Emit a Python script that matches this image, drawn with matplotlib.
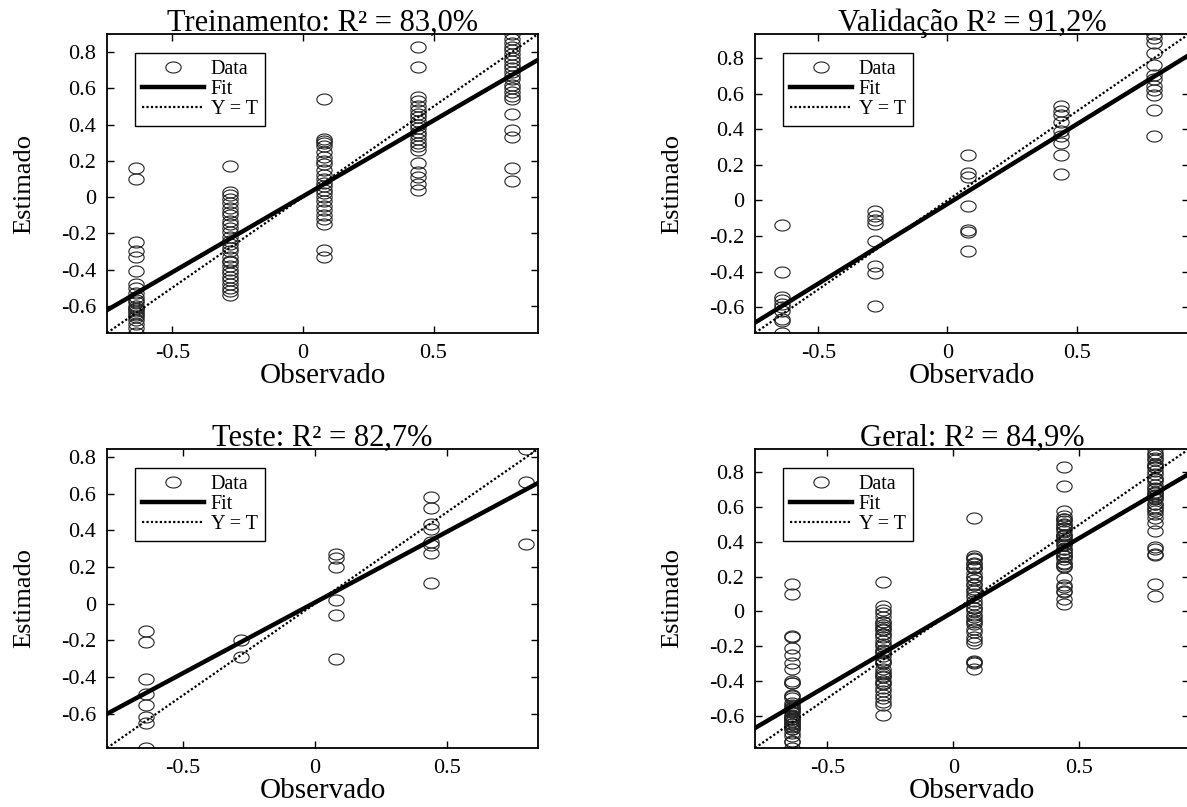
import numpy as np
import matplotlib
matplotlib.use('Agg')
import matplotlib.pyplot as plt
from matplotlib.path import Path

plt.rcParams['font.family'] = ['Liberation Serif', 'DejaVu Serif']

# target levels (observed)
levels = [-0.64, -0.28, 0.08, 0.44, 0.80]

# estimated values per target level
train_est = [
    [0.16, 0.10, -0.25, -0.30, -0.33, -0.41, -0.48, -0.50, -0.53, -0.55, -0.57, -0.58,
     -0.60, -0.61, -0.62, -0.63, -0.64, -0.65, -0.66, -0.68, -0.70, -0.72, -0.75],
    [0.17, 0.03, 0.01, -0.01, -0.03, -0.06, -0.08, -0.10, -0.13, -0.15, -0.17, -0.19,
     -0.22, -0.24, -0.26, -0.28, -0.30, -0.33, -0.35, -0.36, -0.38, -0.40, -0.42,
     -0.44, -0.46, -0.48, -0.50, -0.52, -0.54],
    [0.54, 0.32, 0.31, 0.30, 0.28, 0.25, 0.22, 0.20, 0.18, 0.15, 0.12, 0.10, 0.08,
     0.06, 0.04, 0.02, 0.0, -0.02, -0.05, -0.07, -0.10, -0.12, -0.15, -0.29, -0.33],
    [0.83, 0.72, 0.55, 0.53, 0.50, 0.48, 0.46, 0.44, 0.42, 0.40, 0.38, 0.36, 0.34,
     0.32, 0.30, 0.28, 0.26, 0.19, 0.14, 0.11, 0.07, 0.04],
    [0.90, 0.87, 0.85, 0.83, 0.81, 0.79, 0.77, 0.75, 0.73, 0.71, 0.69, 0.67, 0.65,
     0.62, 0.60, 0.58, 0.56, 0.54, 0.46, 0.37, 0.33, 0.16, 0.09],
]
val_est = [
    [-0.14, -0.40, -0.54, -0.56, -0.58, -0.60, -0.62, -0.665, -0.68, -0.745],
    [-0.06, -0.09, -0.11, -0.13, -0.23, -0.37, -0.41, -0.595],
    [0.255, 0.155, 0.13, -0.03, -0.165, -0.18, -0.285],
    [0.53, 0.505, 0.48, 0.44, 0.39, 0.36, 0.32, 0.255, 0.15],
    [0.935, 0.91, 0.885, 0.83, 0.76, 0.705, 0.68, 0.645, 0.62, 0.59, 0.51, 0.36],
]
test_est = [
    [-0.15, -0.21, -0.41, -0.49, -0.555, -0.62, -0.65, -0.787],
    [-0.20, -0.29],
    [0.27, 0.25, 0.20, 0.02, -0.06, -0.30],
    [0.58, 0.52, 0.435, 0.41, 0.335, 0.32, 0.275, 0.115],
    [0.844, 0.665, 0.325],
]

titles = ['Treinamento: R² = 83,0%', 'Validação R² = 91,2%',
          'Teste: R² = 82,7%', 'Geral: R² = 84,9%']
# fit lines (slope, intercept)
fit_slope = [0.837, 0.895, 0.772, 0.850]
fit_icpt = [0.004, -0.020, 0.007, -0.003]

xticks = [-0.5, 0, 0.5]
xtick_labels = ['-0.5', '0', '0.5']
yticks = [-0.6, -0.4, -0.2, 0, 0.2, 0.4, 0.6, 0.8]
ytick_labels = ['-0.6', '-0.4', '-0.2', '0', '0.2', '0.4', '0.6', '0.8']


def flatten(groups):
    t, y = [], []
    for lev, vals in zip(levels, groups):
        t += [lev] * len(vals)
        y += vals
    return np.array(t), np.array(y)


sets = [flatten(train_est), flatten(val_est), flatten(test_est)]
all_t = np.concatenate([s[0] for s in sets])
all_y = np.concatenate([s[1] for s in sets])
sets.append((all_t, all_y))

# slightly flattened circle like in the picture
th = np.linspace(0, 2 * np.pi, 60)
ellipse = Path(np.column_stack([np.cos(th), 0.72 * np.sin(th)]), closed=True)

fig = plt.figure(figsize=(11.87, 8.07), dpi=100)
W, H = 1187, 807
# left, top, width in pixels; right column runs off the image edge
boxes = [(107, 34, 431), (755, 34, 434), (107, 449, 431), (755, 449, 434)]
ah = 299

for i, (t, y) in enumerate(sets):
    x0, y0, aw = boxes[i]
    ax = fig.add_axes([x0 / W, 1 - (y0 + ah) / H, aw / W, ah / H])
    lo = min(t.min(), y.min())
    hi = max(t.max(), y.max())
    ax.plot(t, y, linestyle='none', marker=ellipse, markersize=11,
            markerfacecolor='none', markeredgecolor='#222222', markeredgewidth=0.8,
            label='Data')
    xs = np.array([lo, hi])
    ax.plot(xs, fit_slope[i] * xs + fit_icpt[i], color='black', lw=3.2, label='Fit')
    ax.plot(xs, xs, color='black', lw=1.6, linestyle=(0, (1, 1)), label='Y = T')
    ax.set_xlim(lo, hi)
    ax.set_ylim(lo, hi)
    ax.set_xticks(xticks)
    ax.set_xticklabels(xtick_labels)
    ax.set_yticks(yticks)
    ax.set_yticklabels(ytick_labels)
    ax.tick_params(direction='in', top=True, right=True, length=5, width=1,
                   labelsize=16, pad=8)
    for s in ax.spines.values():
        s.set_linewidth(1.3)
    ax.set_xlabel('Observado', fontsize=21, labelpad=0)
    ax.set_ylabel('Estimado', fontsize=19)
    ax.yaxis.set_label_coords(-72 / aw, 0.5)
    ax.set_title(titles[i], fontsize=22, pad=2)
    leg = ax.legend(loc='upper left', bbox_to_anchor=(28 / aw, 1 - 19 / ah),
                    borderaxespad=0, fontsize=14.5, handlelength=3.1,
                    labelspacing=0.05, handletextpad=0.3, borderpad=0.35,
                    fancybox=False, framealpha=1)
    leg.get_frame().set_edgecolor('black')
    leg.get_frame().set_linewidth(1.0)

fig.savefig('out.png', dpi=100)
